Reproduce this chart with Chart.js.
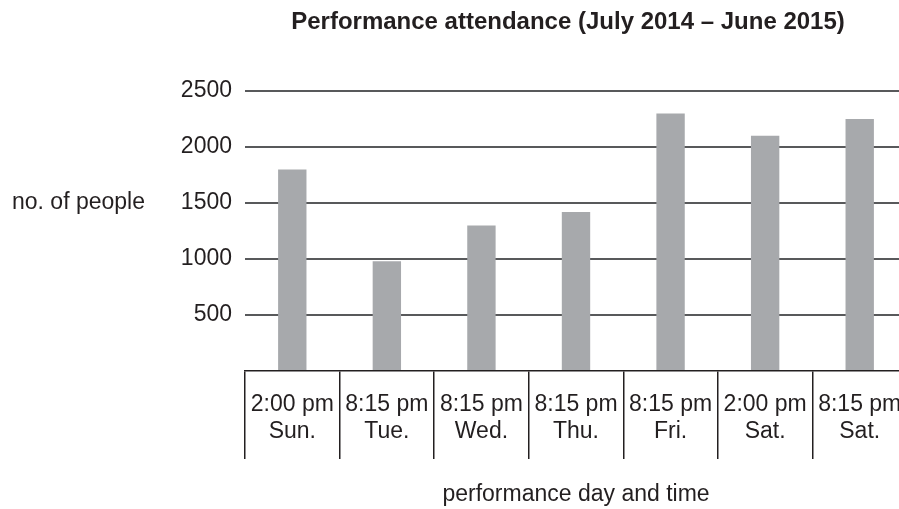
<!DOCTYPE html>
<html>
<head>
<meta charset="utf-8">
<script src="https://cdn.jsdelivr.net/npm/chart.js@4/dist/chart.umd.min.js"></script>
<style>
  html, body { margin: 0; padding: 0; background: #ffffff; overflow: hidden; }
  #wrap { width: 907px; height: 509px; }
</style>
</head>
<body>
<div id="wrap"><canvas id="c" width="907" height="509"></canvas></div>
<script>
// ---- data ----
const performanceTimes = ['2:00 pm', '8:15 pm', '8:15 pm', '8:15 pm', '8:15 pm', '2:00 pm', '8:15 pm'];
const performanceDays  = ['Sun.', 'Tue.', 'Wed.', 'Thu.', 'Fri.', 'Sat.', 'Sat.'];
const attendance       = [1800, 980, 1300, 1420, 2300, 2100, 2250];
const yTicks           = [0, 500, 1000, 1500, 2000, 2500];
const chartTitle       = 'Performance attendance (July 2014 \u2013 June 2015)';
const yAxisTitle       = 'no. of people';
const xAxisTitle       = 'performance day and time';

const labels = performanceTimes.map((t, i) => [t, performanceDays[i]]);

const TEXT = '#231f20';
const FONT = "'Liberation Sans', Arial, Helvetica, sans-serif";

const textPlugin = {
  id: 'textPlugin',
  afterDraw(chart) {
    const ctx = chart.ctx;
    const a = chart.chartArea;
    ctx.save();
    ctx.fillStyle = TEXT;
    ctx.textBaseline = 'middle';
    // title
    ctx.font = 'bold 24px ' + FONT;
    ctx.textAlign = 'center';
    ctx.fillText(chartTitle, (a.left + a.right) / 2 - 8, 22);
    // y axis title (horizontal)
    ctx.font = '23px ' + FONT;
    ctx.textAlign = 'left';
    const yScale = chart.scales.y;
    ctx.fillText(yAxisTitle, 12, yScale.getPixelForValue(1500));
    ctx.restore();
  }
};

new Chart(document.getElementById('c'), {
  type: 'bar',
  data: {
    labels: labels,
    datasets: [{
      data: attendance,
      backgroundColor: '#a7a9ac',
      borderWidth: 0,
      barPercentage: 0.3,
      categoryPercentage: 1.0
    }]
  },
  options: {
    responsive: false,
    animation: false,
    devicePixelRatio: 1,
    layout: { padding: { top: 91, left: 0, right: 0, bottom: 0 } },
    plugins: {
      legend: { display: false },
      title: { display: false },
      tooltip: { enabled: false }
    },
    scales: {
      x: {
        offset: true,
        grid: {
          offset: true,
          drawOnChartArea: false,
          drawTicks: true,
          tickLength: 88,
          color: TEXT,
          lineWidth: 1.5
        },
        border: { display: true, color: TEXT, width: 1.5 },
        ticks: {
          color: TEXT,
          font: { family: FONT, size: 23, lineHeight: 1.17 },
          padding: -68,
          maxRotation: 0,
          autoSkip: false
        },
        title: {
          display: true,
          text: xAxisTitle,
          color: TEXT,
          font: { family: FONT, size: 23 },
          padding: { top: 0, bottom: 1 }
        },
        afterFit(scale) { scale.height = 138; }
      },
      y: {
        min: 0,
        max: 2500,
        afterBuildTicks(scale) { scale.ticks = yTicks.map(v => ({ value: v })); },
        grid: {
          drawTicks: false,
          color: ctx => (ctx.tick && ctx.tick.value === 0) ? 'rgba(0,0,0,0)' : '#58595b',
          lineWidth: 2
        },
        border: { display: false },
        ticks: {
          color: TEXT,
          font: { family: FONT, size: 23 },
          padding: 13,
          callback: v => (v === 0 ? '' : String(v))
        },
        afterFit(scale) { scale.width = 245; }
      }
    }
  },
  plugins: [textPlugin]
});
</script>
</body>
</html>
